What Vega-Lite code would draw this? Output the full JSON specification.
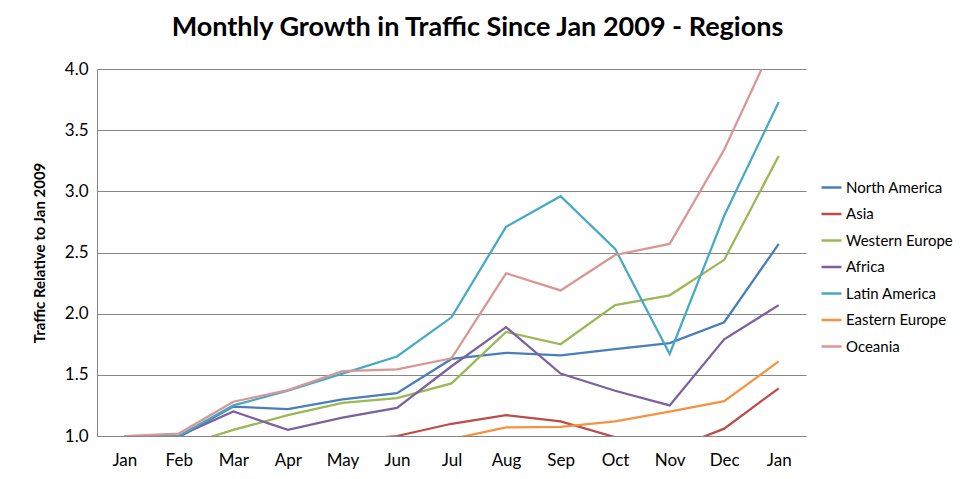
{
  "$schema": "https://vega.github.io/schema/vega-lite/v6.json",
  "width": 709,
  "height": 367,
  "autosize": {"type": "none"},
  "padding": {"left": 97, "top": 69, "right": 157, "bottom": 43},
  "background": "white",
  "config": {
    "font": "Lato",
    "view": {"stroke": null}
  },
  "title": {
    "text": "Monthly Growth in Traffic Since Jan 2009 - Regions",
    "font": "Lato",
    "fontSize": 27,
    "fontWeight": "bold",
    "color": "black",
    "anchor": "middle",
    "dx": 26,
    "offset": 18
  },
  "datasets": {
    "traffic": [
      {"m": 0, "region": "North America", "v": 1.0},
      {"m": 1, "region": "North America", "v": 0.99},
      {"m": 2, "region": "North America", "v": 1.24},
      {"m": 3, "region": "North America", "v": 1.22},
      {"m": 4, "region": "North America", "v": 1.30},
      {"m": 5, "region": "North America", "v": 1.35},
      {"m": 6, "region": "North America", "v": 1.63},
      {"m": 7, "region": "North America", "v": 1.68},
      {"m": 8, "region": "North America", "v": 1.66},
      {"m": 9, "region": "North America", "v": 1.71},
      {"m": 10, "region": "North America", "v": 1.76},
      {"m": 11, "region": "North America", "v": 1.93},
      {"m": 12, "region": "North America", "v": 2.57},

      {"m": 0, "region": "Asia", "v": 1.0},
      {"m": 1, "region": "Asia", "v": 0.95},
      {"m": 2, "region": "Asia", "v": 0.92},
      {"m": 3, "region": "Asia", "v": 0.93},
      {"m": 4, "region": "Asia", "v": 0.96},
      {"m": 5, "region": "Asia", "v": 1.0},
      {"m": 6, "region": "Asia", "v": 1.10},
      {"m": 7, "region": "Asia", "v": 1.17},
      {"m": 8, "region": "Asia", "v": 1.12},
      {"m": 9, "region": "Asia", "v": 0.99},
      {"m": 10, "region": "Asia", "v": 0.885},
      {"m": 11, "region": "Asia", "v": 1.06},
      {"m": 12, "region": "Asia", "v": 1.39},

      {"m": 0, "region": "Western Europe", "v": 1.0},
      {"m": 1, "region": "Western Europe", "v": 0.91},
      {"m": 2, "region": "Western Europe", "v": 1.05},
      {"m": 3, "region": "Western Europe", "v": 1.17},
      {"m": 4, "region": "Western Europe", "v": 1.27},
      {"m": 5, "region": "Western Europe", "v": 1.31},
      {"m": 6, "region": "Western Europe", "v": 1.43},
      {"m": 7, "region": "Western Europe", "v": 1.85},
      {"m": 8, "region": "Western Europe", "v": 1.75},
      {"m": 9, "region": "Western Europe", "v": 2.07},
      {"m": 10, "region": "Western Europe", "v": 2.15},
      {"m": 11, "region": "Western Europe", "v": 2.44},
      {"m": 12, "region": "Western Europe", "v": 3.29},

      {"m": 0, "region": "Africa", "v": 1.0},
      {"m": 1, "region": "Africa", "v": 1.0},
      {"m": 2, "region": "Africa", "v": 1.20},
      {"m": 3, "region": "Africa", "v": 1.05},
      {"m": 4, "region": "Africa", "v": 1.15},
      {"m": 5, "region": "Africa", "v": 1.23},
      {"m": 6, "region": "Africa", "v": 1.57},
      {"m": 7, "region": "Africa", "v": 1.89},
      {"m": 8, "region": "Africa", "v": 1.51},
      {"m": 9, "region": "Africa", "v": 1.37},
      {"m": 10, "region": "Africa", "v": 1.25},
      {"m": 11, "region": "Africa", "v": 1.79},
      {"m": 12, "region": "Africa", "v": 2.07},

      {"m": 0, "region": "Latin America", "v": 1.0},
      {"m": 1, "region": "Latin America", "v": 1.0},
      {"m": 2, "region": "Latin America", "v": 1.25},
      {"m": 3, "region": "Latin America", "v": 1.37},
      {"m": 4, "region": "Latin America", "v": 1.51},
      {"m": 5, "region": "Latin America", "v": 1.65},
      {"m": 6, "region": "Latin America", "v": 1.97},
      {"m": 7, "region": "Latin America", "v": 2.71},
      {"m": 8, "region": "Latin America", "v": 2.96},
      {"m": 9, "region": "Latin America", "v": 2.53},
      {"m": 10, "region": "Latin America", "v": 1.67},
      {"m": 11, "region": "Latin America", "v": 2.80},
      {"m": 12, "region": "Latin America", "v": 3.73},

      {"m": 0, "region": "Eastern Europe", "v": 1.0},
      {"m": 1, "region": "Eastern Europe", "v": 0.93},
      {"m": 2, "region": "Eastern Europe", "v": 0.90},
      {"m": 3, "region": "Eastern Europe", "v": 0.90},
      {"m": 4, "region": "Eastern Europe", "v": 0.92},
      {"m": 5, "region": "Eastern Europe", "v": 0.94},
      {"m": 6, "region": "Eastern Europe", "v": 0.975},
      {"m": 7, "region": "Eastern Europe", "v": 1.07},
      {"m": 8, "region": "Eastern Europe", "v": 1.075},
      {"m": 9, "region": "Eastern Europe", "v": 1.12},
      {"m": 10, "region": "Eastern Europe", "v": 1.20},
      {"m": 11, "region": "Eastern Europe", "v": 1.285},
      {"m": 12, "region": "Eastern Europe", "v": 1.61},

      {"m": 0, "region": "Oceania", "v": 1.0},
      {"m": 1, "region": "Oceania", "v": 1.02},
      {"m": 2, "region": "Oceania", "v": 1.28},
      {"m": 3, "region": "Oceania", "v": 1.375},
      {"m": 4, "region": "Oceania", "v": 1.53},
      {"m": 5, "region": "Oceania", "v": 1.545},
      {"m": 6, "region": "Oceania", "v": 1.635},
      {"m": 7, "region": "Oceania", "v": 2.33},
      {"m": 8, "region": "Oceania", "v": 2.19},
      {"m": 9, "region": "Oceania", "v": 2.48},
      {"m": 10, "region": "Oceania", "v": 2.57},
      {"m": 11, "region": "Oceania", "v": 3.34},
      {"m": 12, "region": "Oceania", "v": 4.30}
    ]
  },
  "data": {"name": "traffic"},
  "encoding": {
    "x": {
      "field": "m",
      "type": "ordinal",
      "scale": {"type": "point", "padding": 0.5},
      "axis": {
        "title": null,
        "labelAngle": 0,
        "labelExpr": "['Jan','Feb','Mar','Apr','May','Jun','Jul','Aug','Sep','Oct','Nov','Dec','Jan'][datum.value]",
        "labelFont": "Lato",
        "labelFontSize": 17,
        "labelColor": "black",
        "labelPadding": 16,
        "ticks": false,
        "domainColor": "#868686",
        "domainWidth": 1,
        "grid": false
      }
    },
    "y": {
      "field": "v",
      "type": "quantitative",
      "scale": {"domain": [1, 4], "nice": false, "zero": false},
      "axis": {
        "title": "Traffic Relative to Jan 2009",
        "titleFont": "Lato",
        "titleFontSize": 15,
        "titleFontWeight": "bold",
        "titleColor": "black",
        "titlePadding": 17,
        "values": [1, 1.5, 2, 2.5, 3, 3.5, 4],
        "format": ".1f",
        "labelFont": "Lato",
        "labelFontSize": 17,
        "labelColor": "black",
        "labelPadding": 9,
        "ticks": false,
        "domainColor": "#868686",
        "grid": true,
        "gridColor": "#868686",
        "gridWidth": 1
      }
    },
    "color": {
      "field": "region",
      "type": "nominal",
      "sort": null,
      "scale": {
        "domain": ["North America", "Asia", "Western Europe", "Africa", "Latin America", "Eastern Europe", "Oceania"],
        "range": ["#4A7EBB", "#BE4B48", "#98B954", "#7D60A0", "#46AAC5", "#F69240", "#D99694"]
      },
      "legend": {
        "title": null,
        "orient": "none",
        "legendX": 723,
        "legendY": 107,
        "symbolType": "stroke",
        "symbolSize": 400,
        "symbolStrokeWidth": 2.5,
        "labelFont": "Lato",
        "labelFontSize": 15,
        "labelColor": "black",
        "labelOffset": 3,
        "rowPadding": 6.5
      }
    }
  },
  "mark": {"type": "line", "strokeWidth": 2.25, "clip": true}
}
